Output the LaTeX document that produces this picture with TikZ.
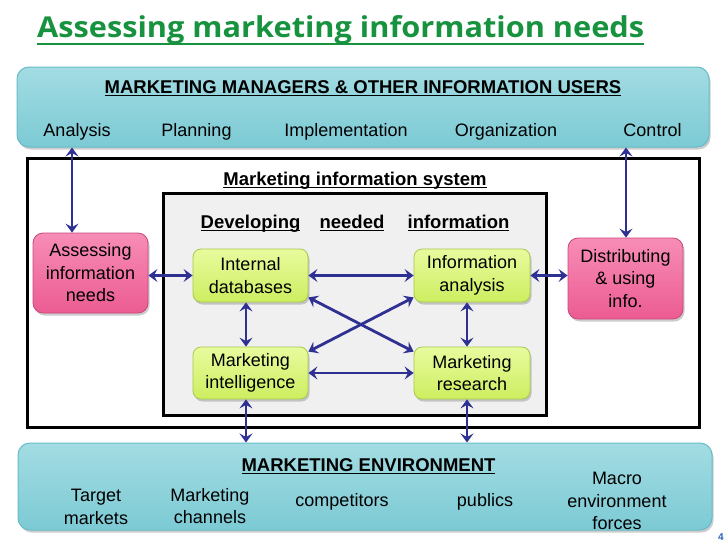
\documentclass[tikz,border=0pt]{standalone}
\usepackage{fontspec}
\usepackage{graphicx}
\setmainfont{Liberation Sans}
\newfontfamily\titlefont{Open Sans}
\usetikzlibrary{arrows.meta,shadows,calc}
\definecolor{ttlgreen}{HTML}{17923F}
\definecolor{navy}{HTML}{2E3192}
\definecolor{cyantop}{HTML}{A3DCE3}
\definecolor{cyanbot}{HTML}{7CCAD4}
\definecolor{cyanline}{HTML}{68BCC8}
\definecolor{greentop}{HTML}{E8FB9E}
\definecolor{greenbot}{HTML}{CDEE60}
\definecolor{greenline}{HTML}{A8C84E}
\definecolor{pinktop}{HTML}{F78DB6}
\definecolor{pinkbot}{HTML}{EC5C92}
\definecolor{pinkline}{HTML}{C8487A}
\definecolor{pnblue}{HTML}{2A66B0}
\newcommand\myul[1]{\setbox0\hbox{#1}\rlap{\rule[-3.4pt]{\wd0}{1.4pt}}\box0}
\begin{document}
\begin{tikzpicture}[x=1pt,y=-1pt,
  font=\fontsize{18}{22.5}\selectfont,
  shadowed/.style={drop shadow={shadow xshift=1.5pt,shadow yshift=-2.5pt,opacity=.4}},
  bigbox/.style={draw=cyanline,line width=1pt,rounded corners=12pt,top color=cyantop,bottom color=cyanbot,shadowed,inner sep=0},
  greenbox/.style={draw=greenline,line width=.8pt,rounded corners=8pt,top color=greentop,bottom color=greenbot,shadowed,align=center,minimum width=115pt,minimum height=53pt,inner sep=0},
  pinkbox/.style={draw=pinkline,line width=.8pt,rounded corners=10pt,top color=pinktop,bottom color=pinkbot,shadowed,align=center,minimum width=115pt,minimum height=80pt,inner sep=0},
  hdr/.style={font=\fontsize{18.5}{22}\selectfont\bfseries,inner sep=0,anchor=base},
  item/.style={inner sep=0,align=center},
  frame/.style={draw=black,line width=3pt,inner sep=0},
  arr/.style={navy,line width=2.8pt,{Stealth[length=9pt,width=13pt,inset=3.5pt]}-{Stealth[length=9pt,width=13pt,inset=3.5pt]}}
]
\useasboundingbox (0,0) rectangle (728,546);
% title
\node[anchor=base west,inner sep=0,text=ttlgreen] (title) at (37,37)
  {\resizebox{607pt}{22pt}{\titlefont\bfseries Assessing marketing information needs}};
\draw[ttlgreen,line width=2.6pt] ([yshift=-7pt]title.base west) -- ([yshift=-7pt]title.base east);
% frames
\node[frame,minimum width=672pt,minimum height=269pt] (mis) at (363,292.5) {};
\node[frame,fill=gray!12,minimum width=383pt,minimum height=222pt] (dev) at (354.5,304) {};
% big boxes
\node[bigbox,minimum width=692pt,minimum height=80pt] (users) at (363,107) {};
\node[hdr] (usershdr) at (363,93) {\myul{MARKETING MANAGERS \& OTHER INFORMATION USERS}};
\node[item,anchor=base] (analysis) at (77,136) {Analysis};
\node[item,anchor=base] (planning) at (196.5,136) {Planning};
\node[item,anchor=base] (implem) at (346,136) {Implementation};
\node[item,anchor=base] (organiz) at (506,136) {Organization};
\node[item,anchor=base] (control) at (652.5,136) {Control};

\node[bigbox,minimum width=694pt,minimum height=87pt] (env) at (365,486.5) {};
\node[hdr] (envhdr) at (368.5,471) {\myul{MARKETING ENVIRONMENT}};
\node[item] (target) at (96,507) {Target\\markets};
\node[item] (channels) at (210,506) {Marketing\\channels};
\node[item] (compet) at (342,502) {competitors};
\node[item] (publics) at (485,502) {publics};
\node[item] (macro) at (617,501) {Macro\\environment\\forces};

% inner labels
\node[hdr] (mislbl) at (355,185) {\myul{Marketing information system}};
\node[hdr] (devw1) at (250.5,228) {\myul{Developing}};
\node[hdr] (devw2) at (352,228) {\myul{needed}};
\node[hdr] (devw3) at (458.5,228) {\myul{information}};

% process boxes
\node[pinkbox] (assess) at (90.5,273) {Assessing\\information\\needs};
\node[pinkbox,minimum height=81pt] (dist) at (625.5,278.5) {Distributing\\\& using\\info.};
\node[greenbox] (intdb) at (250.5,275.5) {Internal\\databases};
\node[greenbox,minimum height=52pt] (mi) at (250.5,373) {Marketing\\intelligence};
\node[greenbox,minimum width=116pt] (infa) at (472,275.5) {Information\\analysis};
\node[greenbox,minimum width=116pt,minimum height=52pt] (mr) at (472,373) {Marketing\\research};

% arrows
\coordinate (xA) at (72,0);
\coordinate (xC) at (626,0);
\coordinate (xL) at (246,0);
\coordinate (xR) at (467,0);
\draw[arr] (users.south -| xA) -- (assess.north -| xA);
\draw[arr] (users.south -| xC) -- (dist.north -| xC);
\draw[arr] (assess.east |- intdb.west) -- (intdb.west);
\draw[arr] (infa.east) -- (infa.east -| dist.west);
\draw[arr] (intdb.east) -- (infa.west);
\draw[arr] (intdb.south -| xL) -- (mi.north -| xL);
\draw[arr] (infa.south -| xR) -- (mr.north -| xR);
\draw[arr] (mi.east) -- (mr.west);
\draw[arr] ([yshift=5pt]intdb.south east) -- ([yshift=-5pt]mr.north west);
\draw[arr] ([yshift=-5pt]mi.north east) -- ([yshift=5pt]infa.south west);
\draw[arr] (mi.south -| xL) -- (env.north -| xL);
\draw[arr] (mr.south -| xR) -- (env.north -| xR);

% page number
\node[inner sep=0,font=\fontsize{10}{12}\selectfont\bfseries,text=pnblue] (pg) at (721,537) {4};
\end{tikzpicture}
\end{document}
